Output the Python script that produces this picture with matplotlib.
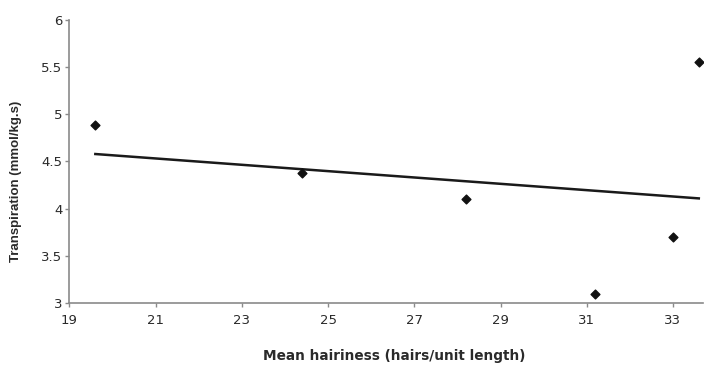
import numpy as np
import matplotlib.pyplot as plt

plt.rcParams['font.family'] = ['DejaVu Sans']

# Mean hairiness vs transpiration
hairiness = [19.6, 24.4, 28.2, 31.2, 33.0, 33.6]
transpiration = [4.88, 4.38, 4.10, 3.10, 3.70, 5.55]

x_ticks = [19, 21, 23, 25, 27, 29, 31, 33]
y_ticks = [3, 3.5, 4, 4.5, 5, 5.5, 6]
y_tick_labels = ["3", "3.5", "4", "4.5", "5", "5.5", "6"]

fig = plt.figure(figsize=(7.06, 3.68), dpi=100)
ax = fig.add_axes([0.0984, 0.176, 0.8975, 0.771])

# linear trend line over the data range
slope, intercept = np.polyfit(hairiness, transpiration, 1)
xs = np.array([min(hairiness), max(hairiness)])
ax.plot(xs, slope * xs + intercept, color='#1a1a1a', lw=1.8, zorder=2)

ax.scatter(hairiness, transpiration, marker='D', s=20, color='#111111', zorder=3)

ax.set_xlim(19, 33.7)
ax.set_ylim(3, 6)
ax.set_xticks(x_ticks)
ax.set_yticks(y_ticks)
ax.set_yticklabels(y_tick_labels)

for side in ['top', 'right']:
    ax.spines[side].set_visible(False)
for side in ['left', 'bottom']:
    ax.spines[side].set_color('#8a8a8a')
    ax.spines[side].set_linewidth(1.2)

ax.tick_params(axis='both', direction='out', length=3, width=1, color='#8a8a8a',
               labelsize=9.5, labelcolor='#2a2a2a')
ax.tick_params(axis='x', pad=5)
ax.tick_params(axis='y', pad=2)

ax.set_xlabel("Mean hairiness (hairs/unit length)", fontsize=9.8, fontweight='bold',
              color='#2a2a2a')
ax.set_ylabel("Transpiration (mmol/kg.s)", fontsize=9.5, fontweight='bold',
              color='#2a2a2a', family='Liberation Sans')
ax.xaxis.set_label_coords(0.512, -0.162)
ax.yaxis.set_label_coords(-0.075, 0.43)

fig.savefig("out.png", dpi=100)
